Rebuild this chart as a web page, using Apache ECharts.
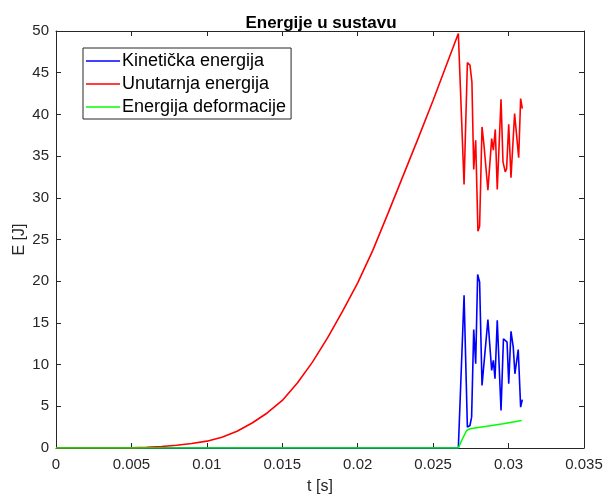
<!DOCTYPE html>
<html>
<head>
<meta charset="utf-8">
<script src="https://cdn.jsdelivr.net/npm/echarts@6/dist/echarts.min.js"></script>
<style>
  html, body { margin: 0; padding: 0; background: #fff; }
  #chart { width: 605px; height: 494px; }
</style>
</head>
<body>
<div id="chart"></div>
<script>
// vrijeme [s] i energije [J], ocitano sa slike
var tUnutarnja = [0, 0.004, 0.005, 0.006, 0.007, 0.008, 0.009, 0.010, 0.011, 0.012, 0.013, 0.014,
  0.015, 0.016, 0.017, 0.018, 0.019, 0.020, 0.021, 0.022, 0.023, 0.024, 0.025, 0.026, 0.02667,
  0.02705, 0.02727, 0.02744, 0.02757, 0.02769, 0.02782, 0.02797, 0.02808, 0.02824, 0.02837,
  0.02863, 0.02888, 0.02899, 0.02912, 0.02925, 0.0295, 0.02963, 0.02978, 0.02987, 0.03001,
  0.03016, 0.0304, 0.03067, 0.0308, 0.03091];
var eUnutarnja = [0, 0, 0.02, 0.08, 0.18, 0.33, 0.54, 0.82, 1.3, 2.0, 3.0, 4.2,
  5.7, 7.8, 10.3, 13.2, 16.4, 19.8, 23.7, 28.1, 32.6, 37.1, 41.7, 46.5, 49.7,
  31.6, 46.2, 45.9, 43.9, 33.4, 36.9, 26.0, 26.6, 38.5, 36.3,
  30.9, 37.1, 35.7, 38.2, 31.0, 41.8, 34.3, 33.1, 33.5, 38.8,
  32.4, 40.1, 34.8, 41.9, 40.7];

var tKineticka = [0, 0.02667, 0.02705, 0.02727, 0.02744, 0.02755, 0.02769, 0.02782, 0.02795,
  0.02808, 0.02824, 0.02863, 0.02888, 0.02899, 0.0291, 0.02925, 0.0295, 0.02966, 0.02978,
  0.0299, 0.03001, 0.03016, 0.03031, 0.03042, 0.03064, 0.0308, 0.03091];
var eKineticka = [0, 0, 18.3, 2.5, 2.7, 3.7, 14.2, 10.1, 20.8,
  19.9, 7.5, 15.4, 9.3, 10.5, 8.3, 15.3, 4.5, 13.1, 13.3,
  12.7, 7.7, 14.0, 12.1, 8.9, 11.8, 4.9, 5.8];

var tDeformacija = [0, 0.02667, 0.02689, 0.02722, 0.02744, 0.02855, 0.02965, 0.03087];
var eDeformacija = [0, 0, 0.9, 2.1, 2.3, 2.6, 2.9, 3.3];

var nazivi = ["Kinetička energija", "Unutarnja energija", "Energija deformacije"];
var boje = ["#0000ff", "#ff0000", "#00ff00"];

function parovi(t, e) {
  return t.map(function (v, i) { return [v, e[i]]; });
}

var osovina = "#262626";
var fontObitelj = "Liberation Sans, Arial, sans-serif";

var myChart = echarts.init(document.getElementById("chart"));

function xOs(pozicija, oznake) {
  return {
    type: "value",
    position: pozicija,
    min: 0,
    max: 0.035,
    interval: 0.005,
    name: oznake ? "t [s]" : "",
    nameLocation: "middle",
    nameGap: 31,
    nameTextStyle: { color: osovina, fontSize: 16, fontFamily: fontObitelj },
    axisLine: { show: true, onZero: false, lineStyle: { color: osovina, width: 1 } },
    axisTick: { show: true, inside: true, length: 5, lineStyle: { color: osovina } },
    axisLabel: {
      show: oznake,
      color: osovina,
      fontSize: 15,
      fontFamily: fontObitelj,
      margin: 9,
      formatter: function (v) { return String(+v.toFixed(3)); }
    },
    splitLine: { show: false }
  };
}

function yOs(pozicija, oznake) {
  return {
    type: "value",
    position: pozicija,
    min: 0,
    max: 50,
    interval: 5,
    name: oznake ? "E [J]" : "",
    nameLocation: "middle",
    nameGap: 28,
    nameMoveOverlap: false,
    nameTextStyle: { color: osovina, fontSize: 16, fontFamily: fontObitelj },
    axisLine: { show: true, onZero: false, lineStyle: { color: osovina, width: 1 } },
    axisTick: { show: true, inside: true, length: 5, lineStyle: { color: osovina } },
    axisLabel: { show: oznake, color: osovina, fontSize: 15, fontFamily: fontObitelj, margin: 7 },
    splitLine: { show: false }
  };
}

var podaci = [
  parovi(tKineticka, eKineticka),
  parovi(tUnutarnja, eUnutarnja),
  parovi(tDeformacija, eDeformacija)
];

var option = {
  animation: false,
  backgroundColor: "#ffffff",
  title: {
    text: "Energije u sustavu",
    left: 316,
    textAlign: "center",
    top: 10,
    textStyle: { color: "#000", fontSize: 17, fontWeight: "bold", fontFamily: fontObitelj }
  },
  grid: { left: 56, right: 21, top: 31, bottom: 46, containLabel: false, outerBoundsMode: "none" },
  legend: {
    orient: "vertical",
    left: 83,
    top: 48,
    data: nazivi,
    icon: "rect",
    itemWidth: 34,
    itemHeight: 1.6,
    itemGap: 3,
    padding: [3, 5, 2, 3],
    borderColor: osovina,
    borderWidth: 1,
    backgroundColor: "#fff",
    textStyle: { color: "#000", fontSize: 18, fontFamily: fontObitelj, padding: [0, 0, 0, -3], lineHeight: 20 }
  },
  xAxis: [xOs("bottom", true), xOs("top", false)],
  yAxis: [yOs("left", true), yOs("right", false)],
  series: nazivi.map(function (n, i) {
    return {
      name: n,
      type: "line",
      data: podaci[i],
      symbol: "none",
      showSymbol: false,
      lineStyle: { color: boje[i], width: 1.6 },
      itemStyle: { color: boje[i] },
      z: i + 2
    };
  })
};

myChart.setOption(option);
</script>
</body>
</html>
